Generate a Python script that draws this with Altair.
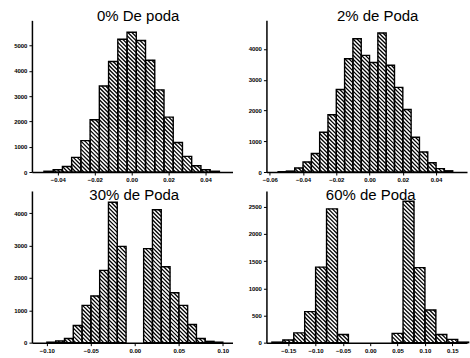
import math
import altair as alt
import pandas as pd

# ---------------- data ----------------
p1_left = [-0.0475, -0.0425, -0.0375, -0.0325, -0.0275, -0.0225, -0.0175, -0.0125, -0.0075, -0.0025,
           0.0025, 0.0075, 0.0125, 0.0175, 0.0225, 0.0275, 0.0325, 0.0375, 0.0425]
p1_count = [30, 90, 220, 580, 1240, 2070, 3400, 4370, 5250, 5530, 5200, 4420, 3250, 2170, 1170, 620, 250, 90, 30]

p2_left = [-0.055, -0.05, -0.045, -0.04, -0.035, -0.03, -0.025, -0.02, -0.015, -0.01, -0.005,
           0.0, 0.005, 0.01, 0.015, 0.02, 0.025, 0.03, 0.035, 0.04, 0.045]
p2_count = [10, 30, 130, 325, 600, 1290, 1860, 2680, 3680, 4330, 3790, 3560, 4520, 3470, 2750, 2030, 1130, 650, 300, 110, 40]

p3_left = [-0.10, -0.09, -0.08, -0.07, -0.06, -0.05, -0.04, -0.03, -0.02,
           0.01, 0.02, 0.03, 0.04, 0.05, 0.06, 0.07, 0.08, 0.09]
p3_count = [15, 50, 130, 530, 1150, 1440, 2230, 4330, 2970,
            2900, 4100, 2340, 1540, 1150, 560, 130, 40, 15]

p4_left = [-0.18, -0.16, -0.14, -0.12, -0.10, -0.08, -0.06,
           0.04, 0.06, 0.08, 0.10, 0.12, 0.14, 0.16]
p4_count = [10, 50, 180, 570, 1390, 2460, 150,
            170, 2600, 1380, 600, 150, 60, 10]

titles = ["0% De poda", "2% de Poda", "30% de Poda", "60% de Poda"]
bin_widths = [0.005, 0.005, 0.01, 0.02]
x_ticks = [[-0.04, -0.02, 0.0, 0.02, 0.04],
           [-0.06, -0.04, -0.02, 0.0, 0.02, 0.04],
           [-0.10, -0.05, 0.0, 0.05, 0.10],
           [-0.15, -0.10, -0.05, 0.0, 0.05, 0.10, 0.15]]
y_ticks = [[0, 1000, 2000, 3000, 4000, 5000],
           [0, 1000, 2000, 3000, 4000],
           [0, 1000, 2000, 3000, 4000],
           [0, 500, 1000, 1500, 2000, 2500]]
x_domains = [[-0.054, 0.0546], [-0.062, 0.0586], [-0.117, 0.111], [-0.190, 0.177]]
y_max = [6000, 4930, 4680, 2790]
title_dx = [6, 11, 2, 4]
title_offset = [-4, -4, -12, -12]

W, H = 201, 152
STEP = 4.0
FONT = "Liberation Sans"


def hatch_lines(left, count, bw, xdom, ymax):
    rows = []
    xr = xdom[1] - xdom[0]
    for l, v in zip(left, count):
        px0 = (l - xdom[0]) / xr * W
        px1 = (l + bw - xdom[0]) / xr * W
        pv = v / ymax * H
        if pv < 1.5:
            continue
        k0 = int(math.floor(px0 / STEP))
        k1 = int(math.ceil((px1 + pv) / STEP))
        for k in range(k0, k1 + 1):
            c = k * STEP
            a = max(px0, c - pv)
            b = min(px1, c)
            if b - a <= 0.3:
                continue
            rows.append({"hx": xdom[0] + a / W * xr, "hx2": xdom[0] + b / W * xr,
                         "hy": (c - a) / H * ymax, "hy2": (c - b) / H * ymax})
    return pd.DataFrame(rows)


def panel(i, left, count):
    bw = bin_widths[i]
    df = pd.DataFrame({"x": left, "x2": [l + bw for l in left], "n": count, "z": [0] * len(left)})
    xs = alt.Scale(domain=x_domains[i], nice=False, zero=False)
    ys = alt.Scale(domain=[0, y_max[i]], nice=False)
    common = dict(labelFont=FONT, labelFontSize=6, labelFontWeight="bold", labelColor="black",
                  domainColor="black", domainWidth=1.5, tickColor="black", tickWidth=1,
                  tickSize=3, grid=False, title=None, labelPadding=2, labelOverlap=False,
                  labelFlush=False)
    xax = alt.Axis(values=x_ticks[i], format=".2f", minExtent=12, maxExtent=12, **common)
    yax = alt.Axis(values=y_ticks[i], format="d", minExtent=32, maxExtent=32, **common)
    base = alt.Chart(df)
    fill = base.mark_rect(fill="white").encode(
        x=alt.X("x:Q", scale=xs, axis=xax), x2="x2:Q",
        y=alt.Y("n:Q", scale=ys, axis=yax), y2="z:Q")
    hdf = hatch_lines(left, count, bw, x_domains[i], y_max[i])
    hatch = alt.Chart(hdf).mark_rule(color="black", strokeWidth=1.3).encode(
        x=alt.X("hx:Q", scale=xs, axis=xax), x2="hx2:Q",
        y=alt.Y("hy:Q", scale=ys, axis=yax), y2="hy2:Q")
    outline = base.mark_rect(fill="transparent", stroke="black", strokeWidth=1.4).encode(
        x=alt.X("x:Q", scale=xs, axis=xax), x2="x2:Q",
        y=alt.Y("n:Q", scale=ys, axis=yax), y2="z:Q")
    return alt.layer(fill, hatch, outline).properties(
        width=W, height=H,
        title=alt.TitleParams(titles[i], font=FONT, fontSize=15, fontWeight="normal",
                              color="black", offset=title_offset[i], dx=title_dx[i]))


c1 = panel(0, p1_left, p1_count)
c2 = panel(1, p2_left, p2_count)
c3 = panel(2, p3_left, p3_count)
c4 = panel(3, p4_left, p4_count)

chart = alt.vconcat(
    alt.hconcat(c1, c2, spacing=2),
    alt.hconcat(c3, c4, spacing=2),
    spacing=4,
).properties(
    padding={"left": 0, "top": 9, "right": 0, "bottom": 0},
    background="white",
).configure_view(strokeWidth=0)

chart.save("out.html", embed_options={"renderer": "svg", "actions": False})
